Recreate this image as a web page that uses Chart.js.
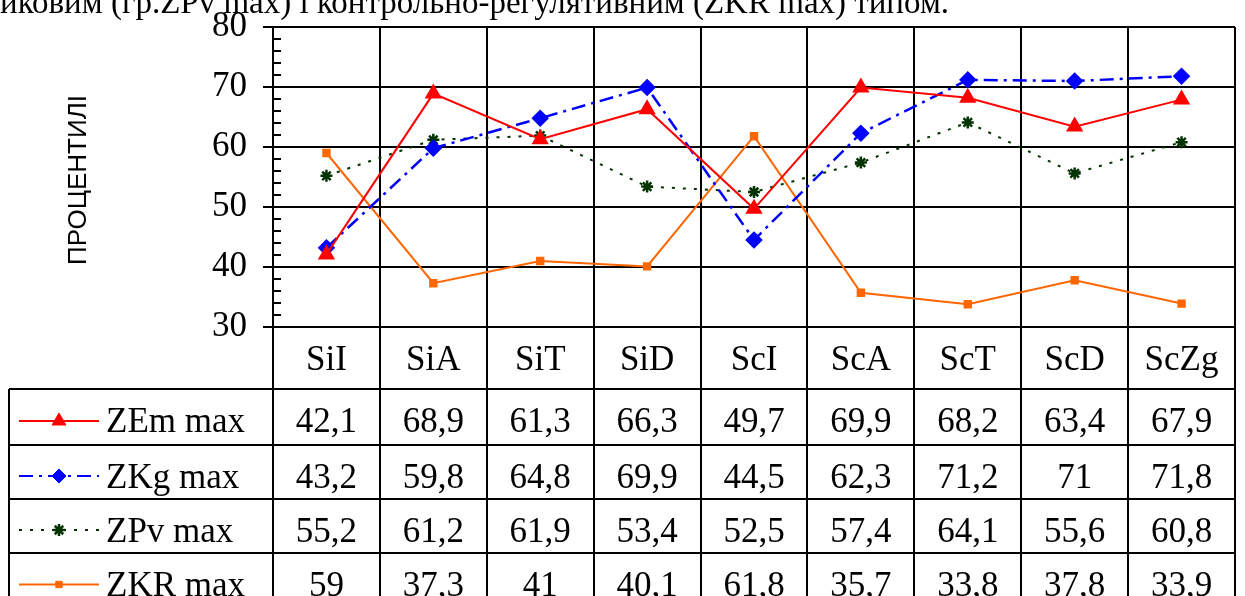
<!DOCTYPE html>
<html>
<head>
<meta charset="utf-8">
<script src="https://cdn.jsdelivr.net/npm/chart.js@4"></script>
<style>
  html, body { margin: 0; padding: 0; background: #fff; }
  canvas { display: block; }
</style>
</head>
<body>
<canvas id="chart" width="1245" height="596"></canvas>
<script>
// Chart data arrays
const categories = ['SiI', 'SiA', 'SiT', 'SiD', 'ScI', 'ScA', 'ScT', 'ScD', 'ScZg'];
const zemMax = [42.1, 68.9, 61.3, 66.3, 49.7, 69.9, 68.2, 63.4, 67.9];
const zkgMax = [43.2, 59.8, 64.8, 69.9, 44.5, 62.3, 71.2, 71, 71.8];
const zpvMax = [55.2, 61.2, 61.9, 53.4, 52.5, 57.4, 64.1, 55.6, 60.8];
const zkrMax = [59, 37.3, 41, 40.1, 61.8, 35.7, 33.8, 37.8, 33.9];
const seriesNames = ['ZEm max', 'ZKg max', 'ZPv max', 'ZKR max'];
const yTitle = 'ПРОЦЕНТИЛІ';
const topText = 'иковим (гр.ZPv max) і контрольно-регулятивним (ZKR max) типом.';

const serif = '"Liberation Serif", "Times New Roman", serif';
const sans = '"Liberation Sans", Arial, sans-serif';

// Table rows: boundaries below the plot
const rowLines = [389, 445, 499, 553, 608];
const tableLeft = 9;

function fmt(v) {
    return String(v).replace('.', ',');
}

// Draws the minor ticks, axis title, caption and data table
const tablePlugin = {
    id: 'dataTable',
    afterDraw(chart) {
        const ctx = chart.ctx;
        const area = chart.chartArea;
        const x = chart.scales.x;
        const y = chart.scales.y;
        const colW = (area.right - area.left) / categories.length;

        ctx.save();
        ctx.strokeStyle = '#000';
        ctx.lineWidth = 2;

        // minor ticks inside the plot
        for (let v = 32; v < 80; v += 2) {
            if (v % 10 === 0) continue;
            const py = Math.round(y.getPixelForValue(v));
            ctx.beginPath();
            ctx.moveTo(area.left, py);
            ctx.lineTo(area.left + 8, py);
            ctx.stroke();
        }

        // axis title
        ctx.save();
        ctx.translate(79, 180);
        ctx.rotate(-Math.PI / 2);
        ctx.fillStyle = '#000';
        ctx.font = '26px ' + sans;
        ctx.textAlign = 'center';
        ctx.textBaseline = 'middle';
        ctx.fillText(yTitle, 0, 0);
        ctx.restore();

        // caption cut at the top
        ctx.fillStyle = '#000';
        ctx.font = '33px ' + serif;
        ctx.textAlign = 'left';
        ctx.textBaseline = 'alphabetic';
        ctx.fillText(topText, 0, 13);

        // table grid
        for (let i = 0; i <= categories.length; i++) {
            const px = Math.round(area.left + i * colW);
            ctx.beginPath();
            ctx.moveTo(px, area.bottom);
            ctx.lineTo(px, 596);
            ctx.stroke();
        }
        ctx.beginPath();
        ctx.moveTo(tableLeft, rowLines[0]);
        ctx.lineTo(tableLeft, 596);
        ctx.stroke();
        rowLines.forEach(ry => {
            ctx.beginPath();
            ctx.moveTo(tableLeft, ry);
            ctx.lineTo(area.right, ry);
            ctx.stroke();
        });

        // header with categories
        ctx.font = '35px ' + serif;
        ctx.textAlign = 'center';
        ctx.textBaseline = 'alphabetic';
        categories.forEach((c, i) => {
            ctx.fillText(c, x.getPixelForValue(i), area.bottom + 43);
        });

        // rows
        chart.data.datasets.forEach((ds, r) => {
            const base = rowLines[r] + 43;
            const ly = Math.min((rowLines[r] + rowLines[r + 1]) / 2 + 4, 585);
            ctx.save();
            ctx.strokeStyle = ds.borderColor;
            ctx.lineWidth = 2;
            ctx.setLineDash(ds.borderDash || []);
            ctx.beginPath();
            ctx.moveTo(19, ly);
            ctx.lineTo(99, ly);
            ctx.stroke();
            ctx.setLineDash([]);
            ctx.fillStyle = ds.pointBackgroundColor;
            ctx.strokeStyle = ds.pointBorderColor;
            ctx.lineWidth = ds.pointBorderWidth || 1;
            Chart.helpers.drawPoint(ctx, {
                pointStyle: ds.pointStyle,
                radius: ds.pointRadius,
                borderWidth: ds.pointBorderWidth || 1,
                rotation: 0
            }, 59, ly);
            ctx.restore();

            ctx.fillStyle = '#000';
            ctx.font = '35px ' + serif;
            ctx.textAlign = 'left';
            ctx.fillText(ds.label, 106, base);
            ctx.textAlign = 'center';
            ds.data.forEach((v, i) => {
                ctx.fillText(fmt(v), x.getPixelForValue(i), base);
            });
        });
        ctx.restore();
    }
};

const ctx = document.getElementById('chart').getContext('2d');
const chart = new Chart(ctx, {
    type: 'line',
    data: {
        labels: categories,
        datasets: [
            {
                label: seriesNames[0],
                data: zemMax,
                borderColor: '#ff0000',
                backgroundColor: '#ff0000',
                pointBackgroundColor: '#ff0000',
                pointBorderColor: '#ff0000',
                borderWidth: 2,
                pointStyle: 'triangle',
                pointRadius: 8,
                fill: false,
                tension: 0
            },
            {
                label: seriesNames[1],
                data: zkgMax,
                borderColor: '#0000ff',
                backgroundColor: '#0000ff',
                pointBackgroundColor: '#0000ff',
                pointBorderColor: '#0000ff',
                borderWidth: 2.5,
                borderDash: [14, 6, 3, 6],
                pointStyle: 'rectRot',
                pointRadius: 7,
                fill: false,
                tension: 0
            },
            {
                label: seriesNames[2],
                data: zpvMax,
                borderColor: '#003300',
                backgroundColor: '#003300',
                pointBackgroundColor: '#003300',
                pointBorderColor: '#003300',
                borderWidth: 2,
                borderDash: [3, 8],
                pointStyle: 'star',
                pointRadius: 6,
                pointBorderWidth: 2.5,
                fill: false,
                tension: 0
            },
            {
                label: seriesNames[3],
                data: zkrMax,
                borderColor: '#ff6600',
                backgroundColor: '#ff6600',
                pointBackgroundColor: '#ff6600',
                pointBorderColor: '#ff6600',
                borderWidth: 2,
                pointStyle: 'rect',
                pointRadius: 4.5,
                fill: false,
                tension: 0
            }
        ]
    },
    options: {
        responsive: false,
        animation: false,
        devicePixelRatio: 1,
        layout: { padding: { top: 27, right: 8, bottom: 269, left: 0 } },
        plugins: {
            legend: { display: false },
            tooltip: { enabled: false },
            title: { display: false }
        },
        scales: {
            x: {
                type: 'category',
                offset: true,
                ticks: { display: false },
                grid: { color: '#000', lineWidth: 2, offset: true, drawTicks: false },
                border: { color: '#000', width: 2 }
            },
            y: {
                min: 30,
                max: 80,
                ticks: {
                    stepSize: 10,
                    color: '#000',
                    padding: 16,
                    font: { family: serif, size: 35 }
                },
                grid: { color: '#000', lineWidth: 2, tickLength: 10 },
                border: { color: '#000', width: 2 },
                afterFit(scale) {
                    scale.width = 273;
                    scale.paddingTop = 0;
                    scale.paddingBottom = 0;
                }
            }
        }
    },
    plugins: [tablePlugin]
});
</script>
</body>
</html>
